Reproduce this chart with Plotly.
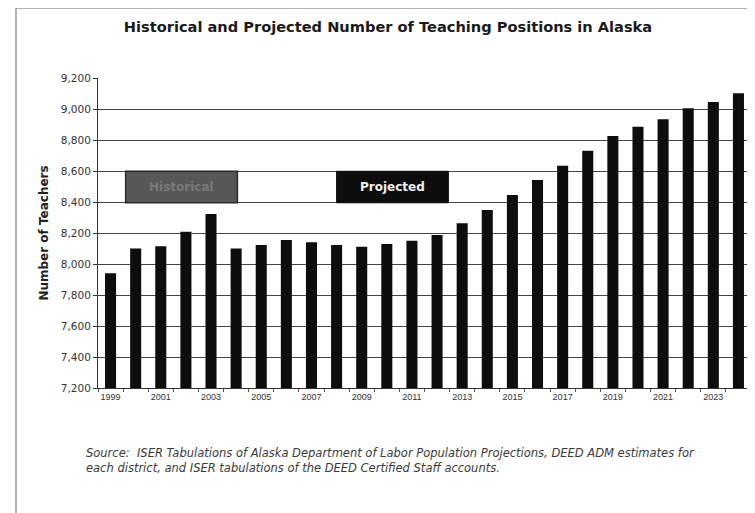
import plotly.graph_objects as go

years = list(range(1999, 2025))
teachers = [7940, 8100, 8115, 8208, 8323, 8100, 8123, 8155, 8140, 8123, 8112, 8129, 8150,
            8187, 8263, 8348, 8445, 8542, 8634, 8731, 8826, 8886, 8934, 9005, 9045, 9101]
tick_years = list(range(1999, 2025, 2))
tick_labels = [str(y) for y in tick_years]
y_ticks = list(range(7200, 9201, 200))

title_text = "Historical and Projected Number of Teaching Positions in Alaska"
y_title = "Number of Teachers"
source_text = ("Source:  ISER Tabulations of Alaska Department of Labor Population Projections, DEED ADM estimates for<br>"
               "each district, and ISER tabulations of the DEED Certified Staff accounts.")

# page body has an 8px margin in the browser; figure is sized to fit the window
W, H = 747, 505
L, R, T, B = 90, 4, 70, 125
PW = W - L - R
PH = H - T - B


def px_x(px):
    return (px - 8 - L) / PW


def px_y(py):
    return (H - B + 8 - py) / PH


fig = go.Figure()
fig.add_trace(go.Bar(x=years, y=teachers, marker=dict(color="#0d0d0d", line=dict(width=0)),
                     width=0.44, showlegend=False))

fig.update_layout(
    width=W, height=H,
    margin=dict(l=L, r=R, t=T, b=B),
    paper_bgcolor="white", plot_bgcolor="white",
    font=dict(family="DejaVu Sans, Liberation Sans, Arial, sans-serif", color="#222"),
    title=dict(text="<b>" + title_text + "</b>", x=(388 - 8) / W, xanchor="center",
               y=1 - (27 - 8) / H, yanchor="middle",
               font=dict(size=14.6, color="#1a1a1a")),
    xaxis=dict(range=[1998.5, 2024.5], tickvals=tick_years, ticktext=tick_labels,
               showgrid=False, showline=True, linecolor="#333", linewidth=1,
               ticks="", tickfont=dict(size=9, color="#333", family="Liberation Sans, Arial"),
               minor=dict(ticks="outside", tick0=1998.5, dtick=1, ticklen=3, tickcolor="#555", showgrid=False),
               zeroline=False, automargin=False),
    yaxis=dict(range=[7200, 9200], tickvals=y_ticks, tickformat=",",
               showgrid=True, gridcolor="#444", gridwidth=1,
               showline=True, linecolor="#333", linewidth=1,
               ticks="outside", ticklen=4, tickcolor="#333",
               tickfont=dict(size=10.5, color="#333"),
               title=dict(text="<b>" + y_title + "</b>", font=dict(size=12, color="#222"), standoff=9),
               zeroline=False, automargin=False),
)

# legend-like boxes
fig.add_shape(type="rect", xref="x", yref="y", x0=1999.6, x1=2004.05, y0=8395, y1=8598,
              fillcolor="#575757", line=dict(color="#2a2a2a", width=1.5), layer="above")
fig.add_annotation(x=2001.82, y=8497, xref="x", yref="y", text="<b>Historical</b>", showarrow=False,
                   font=dict(size=12, color="#7a7a7a"))
fig.add_shape(type="rect", xref="x", yref="y", x0=2008.0, x1=2012.45, y0=8395, y1=8598,
              fillcolor="#0d0d0d", line=dict(color="#0d0d0d", width=1), layer="above")
fig.add_annotation(x=2010.22, y=8497, xref="x", yref="y", text="<b>Projected</b>", showarrow=False,
                   font=dict(size=12, color="#f0f0f0"))

# source note
fig.add_annotation(x=px_x(84), y=px_y(460), xref="paper", yref="paper", text="<i>" + source_text + "</i>",
                   showarrow=False, xanchor="left", yanchor="middle", align="left",
                   font=dict(size=11.5, color="#3a3a3a"))

# page frame (left, top, right edges of the scanned page)
frame = "#9a9a9a"
fig.add_shape(type="line", xref="paper", yref="paper", x0=px_x(16), x1=px_x(16), y0=px_y(513), y1=px_y(8),
              line=dict(width=1.5, color=frame))
fig.add_shape(type="line", xref="paper", yref="paper", x0=px_x(16), x1=px_x(754), y0=px_y(8), y1=px_y(8),
              line=dict(width=1.5, color=frame))
fig.add_shape(type="line", xref="paper", yref="paper", x0=px_x(752), x1=px_x(752), y0=px_y(513), y1=px_y(330),
              line=dict(width=1.5, color=frame))

fig.write_html("out.html")
